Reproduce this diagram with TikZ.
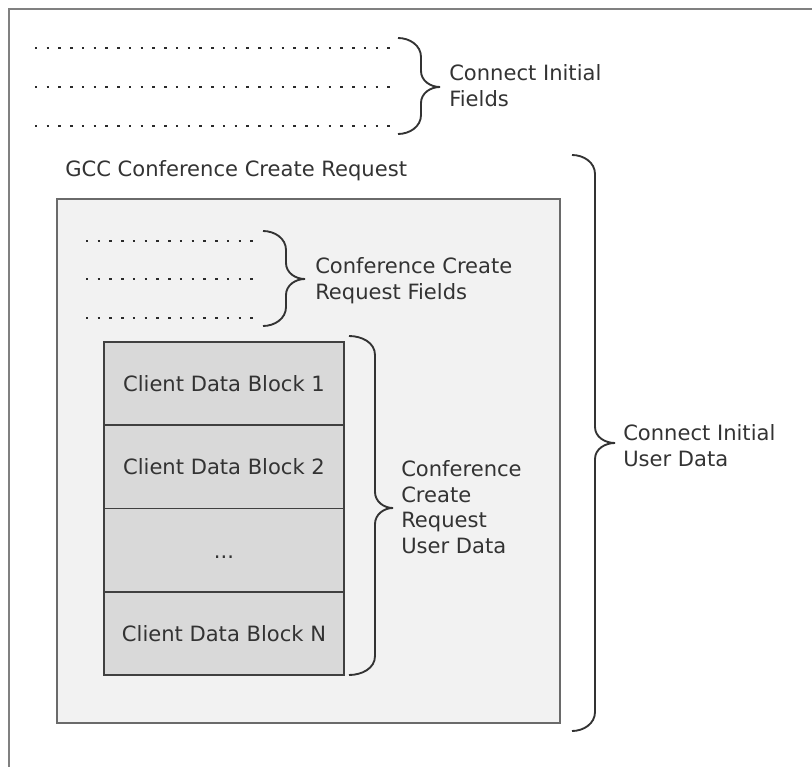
\documentclass[tikz,border=0pt]{standalone}
\usepackage{fontspec}
\setmainfont{DejaVu Sans}
\definecolor{framegray}{HTML}{808080}
\definecolor{boxline}{HTML}{6A6A6A}
\definecolor{boxfill}{HTML}{F2F2F2}
\definecolor{blockline}{HTML}{404040}
\definecolor{blockfill}{HTML}{D9D9D9}
\definecolor{txt}{HTML}{333333}
\definecolor{dotcol}{HTML}{2A2A2A}
\newcommand\mybrace[6]{%
  \draw[bracestyle] (#1,#4) to[out=0,in=90] (#2,#4+19) -- (#2,#5-16)
    to[out=-90,in=180] (#3,#5) to[out=180,in=90] (#2,#5+16) -- (#2,#6-19)
    to[out=-90,in=0] (#1,#6);}
\tikzset{
  bracestyle/.style={draw=txt, line width=1.4pt},
  dotrow/.style={draw=dotcol, line width=1.8pt, dash pattern=on 1.8pt off 7.01pt},
  lbl/.style={inner sep=0pt, align=left, anchor=north west, text=txt,
    font=\fontsize{15.8}{19.3}\selectfont},
  blockbox/.style={draw=blockline, fill=blockfill, line width=1.2pt,
    minimum width=180pt, minimum height=62.44pt, inner sep=0pt,
    text height=12pt, text depth=0pt, text=txt,
    font=\fontsize{15.8}{19.3}\selectfont}
}
\begin{document}
\begin{tikzpicture}[x=0.75pt,y=-0.75pt]
\useasboundingbox (0,0) rectangle (812,766);
% outer frame (open at bottom and right)
\draw[framegray, line width=2pt] (9,770) -- (9,9) -- (816,9);
% connect initial fields
\draw[dotrow] (35,48) -- (390,48);
\draw[dotrow] (35,87) -- (390,87);
\draw[dotrow] (35,126) -- (390,126);
\mybrace{398}{421}{440}{38}{87}{134}
\node[lbl] (cif) at (449,64) {Connect Initial\\Fields};
% GCC conference create request
\node[lbl] (gcc) at (65,160) {GCC Conference Create Request};
\mybrace{572}{595}{615}{155}{443}{731}
\node[lbl] (ciud) at (623,424) {Connect Initial\\User Data};
\draw[draw=boxline, fill=boxfill, line width=1.8pt] (57,199) rectangle (560,723);
% conference create request fields
\draw[dotrow] (86,241) -- (252.5,241);
\draw[dotrow] (86,279) -- (252.5,279);
\draw[dotrow] (86,318) -- (252.5,318);
\mybrace{263}{286}{305}{231}{279}{326}
\node[lbl] (ccrf) at (315,257) {Conference Create\\Request Fields};
% client data blocks
\node[blockbox] (b1) at (224,383.6) {Client Data Block 1};
\node[blockbox] (b2) at (224,466.9) {Client Data Block 2};
\node[blockbox] (b3) at (224,550.1) {...};
\node[blockbox] (bn) at (224,633.4) {Client Data Block N};
\mybrace{349}{375}{393}{336}{508}{675}
\node[lbl] (ccrud) at (401,460) {Conference\\Create\\Request\\User Data};
\end{tikzpicture}
\end{document}
